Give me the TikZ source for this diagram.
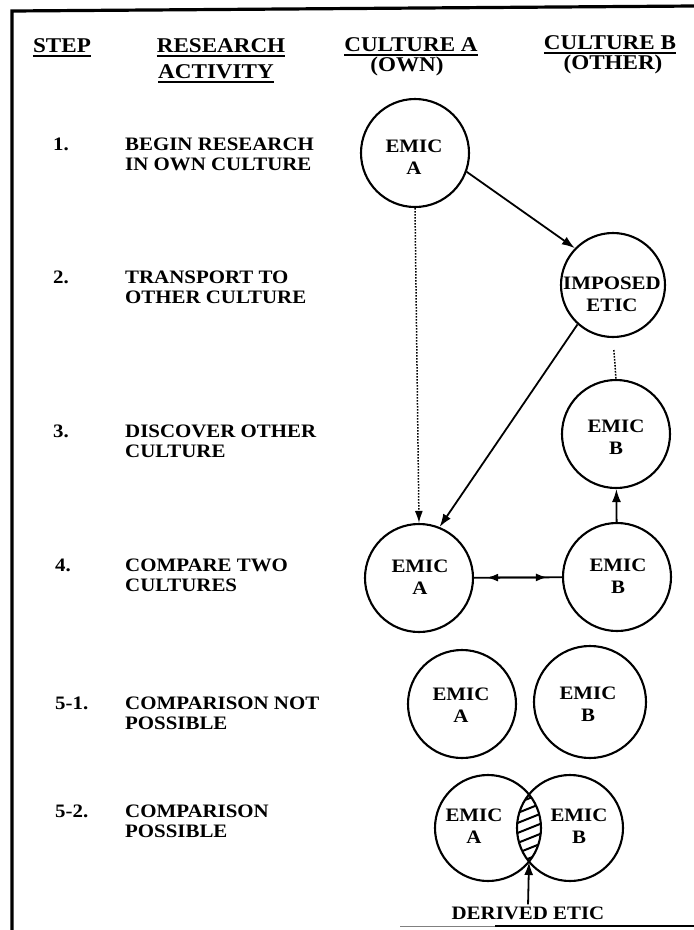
\documentclass[tikz,border=0pt]{standalone}
\usepackage{fontspec}
\setmainfont{Liberation Serif}[FakeStretch=1.1]
\usetikzlibrary{arrows.meta}
\begin{document}
\begin{tikzpicture}[x=1pt,y=-1pt,
  hdr/.style={font=\fontsize{21}{24}\selectfont\bfseries, inner sep=0pt},
  num/.style={font=\fontsize{19}{20}\selectfont\bfseries, anchor=west, inner sep=0pt},
  act/.style={font=\fontsize{19}{20}\selectfont\bfseries, anchor=west, align=left, inner sep=0pt},
  circ/.style={circle, draw, line width=2.1pt, minimum size=108pt, inner sep=0pt},
  ctext/.style={font=\fontsize{19}{22}\selectfont\bfseries, align=center, inner sep=0pt},
  uline/.style={line width=1.8pt},
  frame/.style={line width=3.2pt},
  tip/.style={Latex[length=13pt,width=9pt]},
  conn/.style={line width=1.8pt, -{Latex[length=13pt,width=9pt]}},
  twoway/.style={line width=1.8pt, {Latex[length=11pt,width=8pt]}-{Latex[length=11pt,width=8pt]}},
  plain/.style={line width=1.8pt},
  dotconn/.style={line width=1.5pt, dash pattern=on 1.6pt off 1.4pt, -{Latex[length=12pt,width=8pt]}},
  dotline/.style={line width=1.5pt, dash pattern=on 1.6pt off 1.4pt}]

\fill[white] (0,0) rectangle (694,930);
\useasboundingbox (0,0) rectangle (694,930);

% page frame
\draw[frame] (694,6) -- (12,11) -- (12,930);
\draw[line width=0.8pt, gray] (400,926) -- (495,926);
\draw[line width=2.6pt] (495,926) -- (694,926);

% column headings
\node[hdr] (hstep) at (62,46) {STEP};
\node[hdr] (hres) at (221,46) {RESEARCH};
\node[hdr] (hact) at (216,72) {ACTIVITY};
\node[hdr] (hca) at (411,45) {CULTURE A};
\node[hdr] (hown) at (407,66) {(OWN)};
\node[hdr] (hcb) at (610,43) {CULTURE B};
\node[hdr] (hoth) at (613,64) {(OTHER)};
\foreach \n in {hstep,hres,hact,hca,hcb}
  \draw[uline] ([yshift=-3pt]\n.base west) -- ([yshift=-3pt]\n.base east);

% steps and research activities
\node[num] (s1) at (53,144) {1.};
\node[act] (r1) at (125,154) {BEGIN RESEARCH\\IN OWN CULTURE};
\node[num] (s2) at (53,277) {2.};
\node[act] (r2) at (125,287) {TRANSPORT TO\\OTHER CULTURE};
\node[num] (s3) at (53,431) {3.};
\node[act] (r3) at (125,441) {DISCOVER OTHER\\CULTURE};
\node[num] (s4) at (55,565) {4.};
\node[act] (r4) at (125,575) {COMPARE TWO\\CULTURES};
\node[num] (s51) at (55,703) {5-1.};
\node[act] (r51) at (125,713) {COMPARISON NOT\\POSSIBLE};
\node[num] (s52) at (55,811) {5-2.};
\node[act] (r52) at (125,821) {COMPARISON\\POSSIBLE};

% shared region of the two overlapping circles
\begin{scope}
  \clip (488,828) circle [radius=53pt];
  \clip (570,828) circle [radius=53pt];
  \foreach \k in {-6,...,6}
    \draw[line width=2pt] (500,{828+\k*10+12}) -- (560,{828+\k*10-12});
\end{scope}

% circles
\node[circ] (a1) at (415,153) {};
\node[circ, minimum size=104pt] (ie) at (613,285) {};
\node[circ] (b3) at (616,434) {};
\node[circ] (a4) at (419,578) {};
\node[circ] (b4) at (617,577) {};
\node[circ] (n1a) at (462,704) {};
\node[circ, minimum size=112pt] (n1b) at (590,702) {};
\node[circ, minimum size=106pt] (c2a) at (488,828) {};
\node[circ, minimum size=106pt] (c2b) at (570,828) {};

% circle labels
\node[ctext] (t1) at (414,157) {EMIC\\A};
\node[ctext] (t2) at (612,294) {IMPOSED\\ETIC};
\node[ctext] (t3) at (616,437) {EMIC\\B};
\node[ctext] (t4) at (420,577) {EMIC\\A};
\node[ctext] (t5) at (618,576) {EMIC\\B};
\node[ctext] (t6) at (461,705) {EMIC\\A};
\node[ctext] (t7) at (588,704) {EMIC\\B};
\node[ctext] (t8) at (474,826) {EMIC\\A};
\node[ctext] (t9) at (579,826) {EMIC\\B};
\node[ctext] (de) at (528,913) {DERIVED ETIC};
\coordinate (lensbot) at (529,862);

% connectors
\draw[conn] (a1.-20) -- (ie.136);
\draw[conn] (ie.228) -- (a4.68);
\draw[dotconn] (a1.south) -- (a4.north);
\draw[dotline, shorten <=12pt] (ie.south) -- (b3.north);
\draw[conn] (b4) -- (b3);
\draw[plain] (a4) -- (b4);
\draw[twoway, shorten <=13pt, shorten >=15pt] (a4) -- (b4);
\draw[conn, shorten <=2pt] (de.north) -- (lensbot);
\end{tikzpicture}
\end{document}
